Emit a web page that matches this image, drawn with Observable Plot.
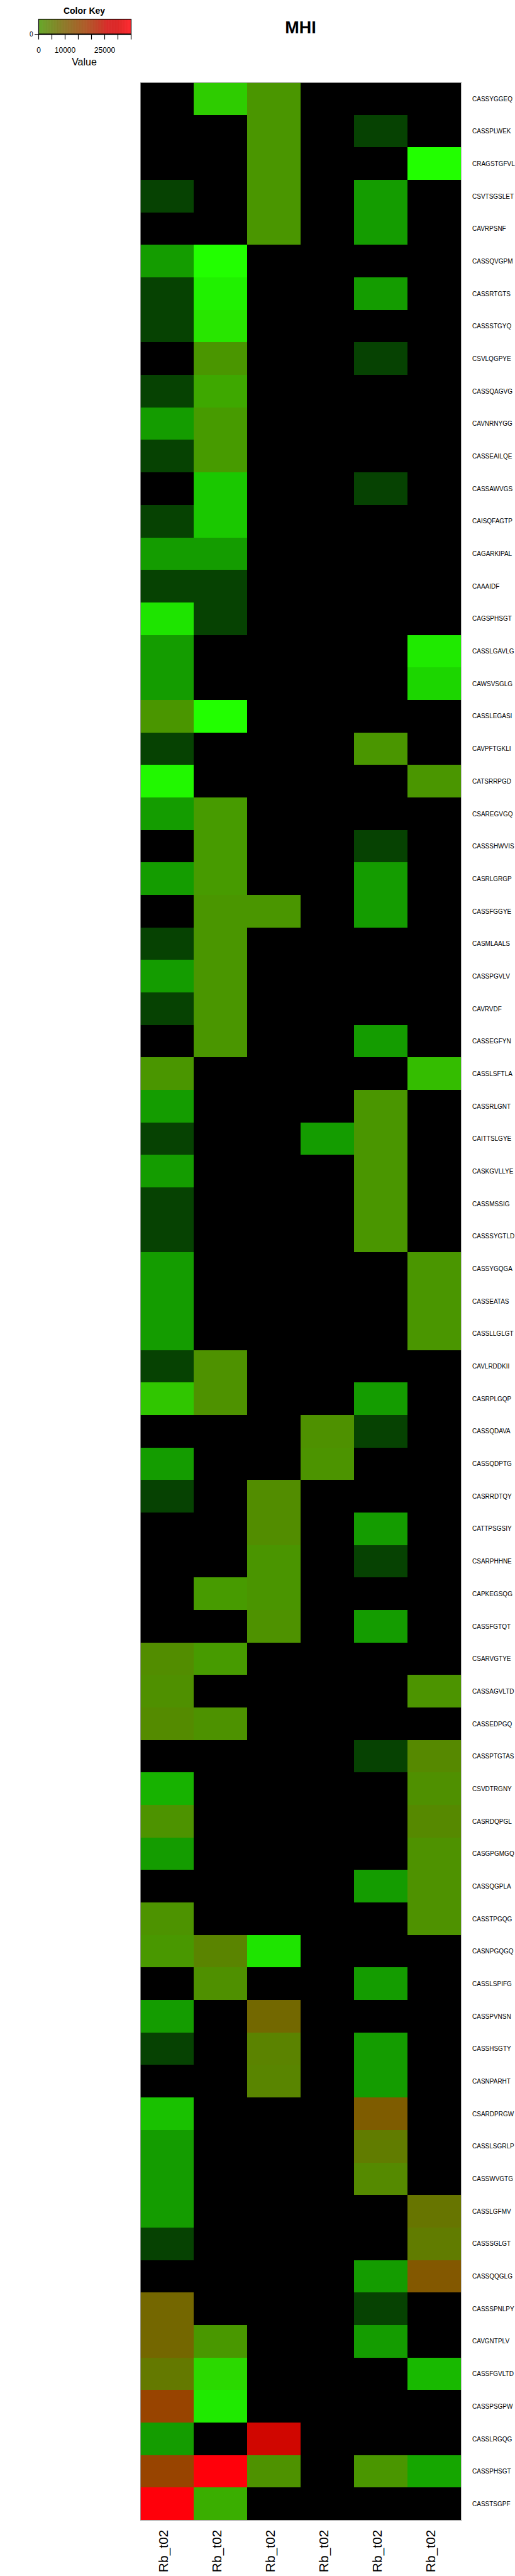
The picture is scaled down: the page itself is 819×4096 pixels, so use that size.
<!DOCTYPE html>
<html><head><meta charset="utf-8">
<script src="https://cdn.jsdelivr.net/npm/d3@7"></script>
<script src="https://cdn.jsdelivr.net/npm/@observablehq/plot@0.6"></script>
<style>
body{margin:0;background:#fff;font-family:"Liberation Sans",Arial,sans-serif;}
#wrap{position:relative;width:819px;height:4096px;overflow:hidden;}
#main,#key{position:absolute;left:0;top:0;}
.lbl{position:absolute;transform:translate(-50%,-50%);white-space:nowrap;color:#000;line-height:1;}
</style></head><body>
<div id="wrap">
<div id="main"></div>
<div id="key"></div>
<div class="lbl" style="left:134px;top:17px;font-size:14px;font-weight:bold">Color Key</div>
<div class="lbl" style="left:134px;top:99px;font-size:16px">Value</div>
<div class="lbl" style="left:478px;top:44px;font-size:27px;font-weight:bold">MHI</div>
</div>
<script>
const rowLabels = ["CASSYGGEQ","CASSPLWEK","CRAGSTGFVL","CSVTSGSLET","CAVRPSNF","CASSQVGPM","CASSRTGTS","CASSSTGYQ","CSVLQGPYE","CASSQAGVG","CAVNRNYGG","CASSEAILQE","CASSAWVGS","CAISQFAGTP","CAGARKIPAL","CAAAIDF","CAGSPHSGT","CASSLGAVLG","CAWSVSGLG","CASSLEGASI","CAVPFTGKLI","CATSRRPGD","CSAREGVGQ","CASSSHWVIS","CASRLGRGP","CASSFGGYE","CASMLAALS","CASSPGVLV","CAVRVDF","CASSEGFYN","CASSLSFTLA","CASSRLGNT","CAITTSLGYE","CASKGVLLYE","CASSMSSIG","CASSSYGTLD","CASSYGQGA","CASSEATAS","CASSLLGLGT","CAVLRDDKII","CASRPLGQP","CASSQDAVA","CASSQDPTG","CASRRDTQY","CATTPSGSIY","CSARPHHNE","CAPKEGSQG","CASSFGTQT","CSARVGTYE","CASSAGVLTD","CASSEDPGQ","CASSPTGTAS","CSVDTRGNY","CASRDQPGL","CASGPGMGQ","CASSQGPLA","CASSTPGQG","CASNPGQGQ","CASSLSPIFG","CASSPVNSN","CASSHSGTY","CASNPARHT","CSARDPRGW","CASSLSGRLP","CASSWVGTG","CASSLGFMV","CASSSGLGT","CASSQQGLG","CASSSPNLPY","CAVGNTPLV","CASSFGVLTD","CASSPSGPW","CASSLRGQG","CASSPHSGT","CASSTSGPF"];
const colLabels = ["Rb_t02","Rb_t02","Rb_t02","Rb_t02","Rb_t02","Rb_t02"];
const col1 = [0,0,0,2,0,5,2,2,0,2,5,2,0,2,5,2,10,5,5,300,2,11.5,5,0,5,0,2,5,2,0,300,5,2,5,2,2,5,5,5,2,28,0,5,2,0,0,0,0,1950,1300,2300,0,6.5,900,5,0,900,280,0,5,2,0,7.5,5,5,5,2,0,8800,8800,5550,16250,5,16250,35000];
const col2 = [20,0,0,0,0,12,11,16,300,120,250,250,8,8,5,2,2,0,0,12,0,0,250,250,250,300,300,300,300,300,0,0,0,0,0,0,0,0,0,1100,1100,0,0,0,0,0,250,0,250,0,1000,0,0,0,0,0,0,3500,1300,0,0,0,0,0,0,0,0,0,0,280,18,10.5,0,35000,60];
const col3 = [300,300,300,300,300,0,0,0,0,0,0,0,0,0,0,0,0,0,0,0,0,0,0,0,0,300,0,0,0,0,0,0,0,0,0,0,0,0,0,0,0,0,0,1950,1950,400,400,1100,0,0,0,0,0,0,0,0,0,10,0,8500,3800,3400,0,0,0,0,0,0,0,0,0,0,25700,1100,0];
const col4 = [0,0,0,0,0,0,0,0,0,0,0,0,0,0,0,0,0,0,0,0,0,0,0,0,0,0,0,0,0,0,0,0,5,0,0,0,0,0,0,0,0,1200,700,0,0,0,0,0,0,0,0,0,0,0,0,0,0,0,0,0,0,0,0,0,0,0,0,0,0,0,0,0,0,0,0];
const col5 = [0,2,0,5,5,0,5,0,2,0,0,0,2,0,0,0,0,0,0,0,300,0,0,2,5,5,0,0,0,5,0,300,300,300,300,300,0,0,0,0,5,2,0,0,5,2,0,5,0,0,0,2,0,0,0,5,0,0,5,0,5,5,10800,5000,2500,0,0,5,2,5,0,0,0,300,0];
const col6 = [0,0,12,0,0,0,0,0,0,0,0,0,0,0,0,0,0,10.5,9,0,0,300,0,0,0,0,0,0,0,0,40,0,0,0,0,0,300,300,300,0,0,0,0,0,0,0,0,0,0,700,0,2700,1300,2700,1100,1100,1100,0,0,0,0,0,0,0,0,6200,5000,11800,0,0,7,0,0,5.7,0];
const keyTicks = [0,5000,10000,15000,20000,25000,30000,35000];
const keyTickLabels = {0:"0",10000:"10000",25000:"25000"};

const cols = [col1,col2,col3,col4,col5,col6];
const data = rowLabels.flatMap((r,i)=>cols.map((c,j)=>({row:r,col:j,value:c[i]})));

const colorOpts = {
  type:"linear",
  domain:[0,2,5,8,12,20,60,300,10000,17500,22000,26000,30000,35000],
  range:["rgb(0,0,0)","rgb(6,66,2)","rgb(20,156,0)","rgb(26,200,0)","rgb(34,255,0)","rgb(46,204,0)","rgb(58,174,0)","rgb(74,150,0)","rgb(122,96,0)","rgb(158,62,0)","rgb(180,36,0)","rgb(210,4,0)","rgb(214,0,0)","rgb(255,0,10)"],
  interpolate:"rgb",
  clamp:true
};
const font = {fontFamily:"'Liberation Sans', Arial, sans-serif", background:"transparent"};

const main = Plot.plot({
  width:819, height:4096,
  marginTop:131, marginBottom:89, marginLeft:223, marginRight:85.5,
  style:font,
  x:{type:"band", domain:d3.range(colLabels.length), padding:0, label:null},
  y:{type:"band", domain:rowLabels, padding:0, label:null},
  color:colorOpts,
  marks:[
    Plot.cell(data,{x:"col",y:"row",fill:"value",inset:0,shapeRendering:"crispEdges"}),
    Plot.frame({stroke:"#9a9a9a",strokeWidth:0.8}),
    Plot.axisY({anchor:"right",tickSize:0,tickPadding:17,fontSize:10,label:null}),
    Plot.axisX({anchor:"bottom",tickSize:0,tickPadding:15,tickRotate:-90,fontSize:21,label:null,tickFormat:i=>colLabels[i],dx:-6})
  ]
});
document.getElementById("main").appendChild(main);

const keySteps = d3.range(0,35000,70);
const key = Plot.plot({
  width:220, height:110,
  marginLeft:61, marginRight:12, marginTop:30, marginBottom:56,
  style:font,
  x:{domain:[0,35000], label:null},
  y:{domain:[0,1], label:null},
  color:colorOpts,
  marks:[
    Plot.rect(keySteps,{x1:d=>d,x2:d=>Math.min(d+100,35000),y1:0,y2:1,fill:d=>d}),
    Plot.frame({stroke:"black",strokeWidth:1.2}),
    Plot.ruleY([0],{stroke:"black",strokeWidth:2}),
    Plot.axisX({ticks:keyTicks,tickSize:8.7,tickPadding:12,fontSize:12,strokeWidth:1.2,label:null,tickFormat:d=>keyTickLabels[d] ?? ""})
  ]
});
document.getElementById("key").appendChild(key);
</script>
</body></html>
